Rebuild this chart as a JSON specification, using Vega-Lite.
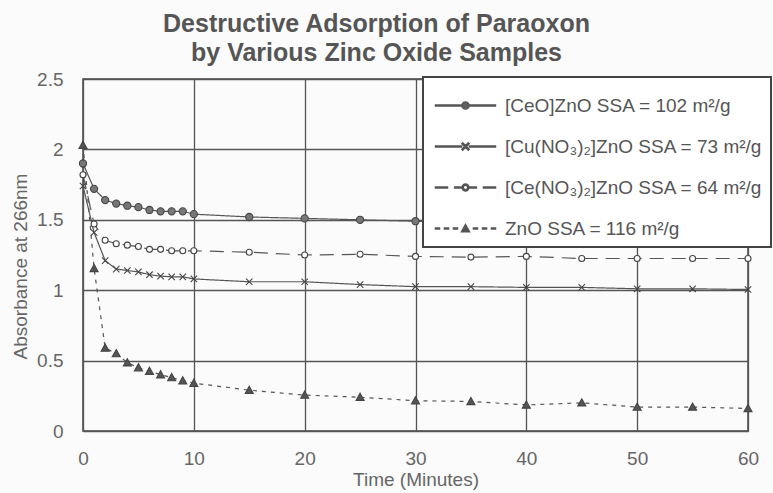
{
  "$schema": "https://vega.github.io/schema/vega-lite/v6.json",
  "width": 665,
  "height": 352,
  "autosize": {"type": "none"},
  "padding": {"left": 83, "top": 79, "right": 25, "bottom": 62},
  "background": "#fbfbfb",
  "title": {
    "text": ["Destructive Adsorption of Paraoxon", "by Various Zinc Oxide Samples"],
    "font": "Liberation Sans",
    "fontSize": 25,
    "fontWeight": "bold",
    "color": "#555",
    "lineHeight": 29,
    "anchor": "middle",
    "dx": -39,
    "offset": 4
  },
  "config": {
    "view": {"stroke": "#444", "strokeWidth": 1.5},
    "legend": {"strokeWidth": 2},
    "axis": {
      "labelFont": "Liberation Sans",
      "labelFontSize": 19,
      "labelColor": "#666",
      "labelFlush": false,
      "titleFont": "Liberation Sans",
      "titleFontSize": 19,
      "titleFontWeight": "normal",
      "titleColor": "#666",
      "grid": true,
      "gridColor": "#555",
      "gridWidth": 1.3,
      "gridOpacity": 1,
      "ticks": false,
      "domain": false
    }
  },
  "data": {
    "values": [
      {"sample": "A", "t": 0, "v": 1.90}, {"sample": "A", "t": 1, "v": 1.72}, {"sample": "A", "t": 2, "v": 1.64},
      {"sample": "A", "t": 3, "v": 1.615}, {"sample": "A", "t": 4, "v": 1.60}, {"sample": "A", "t": 5, "v": 1.59},
      {"sample": "A", "t": 6, "v": 1.57}, {"sample": "A", "t": 7, "v": 1.56}, {"sample": "A", "t": 8, "v": 1.56},
      {"sample": "A", "t": 9, "v": 1.56}, {"sample": "A", "t": 10, "v": 1.54}, {"sample": "A", "t": 15, "v": 1.52},
      {"sample": "A", "t": 20, "v": 1.51}, {"sample": "A", "t": 25, "v": 1.50}, {"sample": "A", "t": 30, "v": 1.49},
      {"sample": "A", "t": 35, "v": 1.48}, {"sample": "A", "t": 40, "v": 1.48}, {"sample": "A", "t": 45, "v": 1.47},
      {"sample": "A", "t": 50, "v": 1.47}, {"sample": "A", "t": 55, "v": 1.47}, {"sample": "A", "t": 60, "v": 1.46},

      {"sample": "B", "t": 0, "v": 1.74}, {"sample": "B", "t": 1, "v": 1.41}, {"sample": "B", "t": 2, "v": 1.21},
      {"sample": "B", "t": 3, "v": 1.15}, {"sample": "B", "t": 4, "v": 1.14}, {"sample": "B", "t": 5, "v": 1.13},
      {"sample": "B", "t": 6, "v": 1.11}, {"sample": "B", "t": 7, "v": 1.10}, {"sample": "B", "t": 8, "v": 1.095},
      {"sample": "B", "t": 9, "v": 1.095}, {"sample": "B", "t": 10, "v": 1.08}, {"sample": "B", "t": 15, "v": 1.06},
      {"sample": "B", "t": 20, "v": 1.06}, {"sample": "B", "t": 25, "v": 1.04}, {"sample": "B", "t": 30, "v": 1.025},
      {"sample": "B", "t": 35, "v": 1.025}, {"sample": "B", "t": 40, "v": 1.02}, {"sample": "B", "t": 45, "v": 1.02},
      {"sample": "B", "t": 50, "v": 1.01}, {"sample": "B", "t": 55, "v": 1.01}, {"sample": "B", "t": 60, "v": 1.005},

      {"sample": "C", "t": 0, "v": 1.82}, {"sample": "C", "t": 1, "v": 1.47}, {"sample": "C", "t": 2, "v": 1.355},
      {"sample": "C", "t": 3, "v": 1.33}, {"sample": "C", "t": 4, "v": 1.32}, {"sample": "C", "t": 5, "v": 1.31},
      {"sample": "C", "t": 6, "v": 1.29}, {"sample": "C", "t": 7, "v": 1.29}, {"sample": "C", "t": 8, "v": 1.28},
      {"sample": "C", "t": 9, "v": 1.28}, {"sample": "C", "t": 10, "v": 1.28}, {"sample": "C", "t": 15, "v": 1.27},
      {"sample": "C", "t": 20, "v": 1.25}, {"sample": "C", "t": 25, "v": 1.255}, {"sample": "C", "t": 30, "v": 1.24},
      {"sample": "C", "t": 35, "v": 1.235}, {"sample": "C", "t": 40, "v": 1.24}, {"sample": "C", "t": 45, "v": 1.225},
      {"sample": "C", "t": 50, "v": 1.225}, {"sample": "C", "t": 55, "v": 1.225}, {"sample": "C", "t": 60, "v": 1.225},

      {"sample": "D", "t": 0, "v": 2.03}, {"sample": "D", "t": 1, "v": 1.155}, {"sample": "D", "t": 2, "v": 0.59},
      {"sample": "D", "t": 3, "v": 0.55}, {"sample": "D", "t": 4, "v": 0.485}, {"sample": "D", "t": 5, "v": 0.45},
      {"sample": "D", "t": 6, "v": 0.425}, {"sample": "D", "t": 7, "v": 0.40}, {"sample": "D", "t": 8, "v": 0.38},
      {"sample": "D", "t": 9, "v": 0.357}, {"sample": "D", "t": 10, "v": 0.34}, {"sample": "D", "t": 15, "v": 0.29},
      {"sample": "D", "t": 20, "v": 0.255}, {"sample": "D", "t": 25, "v": 0.24}, {"sample": "D", "t": 30, "v": 0.215},
      {"sample": "D", "t": 35, "v": 0.21}, {"sample": "D", "t": 40, "v": 0.185}, {"sample": "D", "t": 45, "v": 0.20},
      {"sample": "D", "t": 50, "v": 0.17}, {"sample": "D", "t": 55, "v": 0.17}, {"sample": "D", "t": 60, "v": 0.16}
    ]
  },
  "encoding": {
    "x": {
      "field": "t",
      "type": "quantitative",
      "scale": {"domain": [0, 60], "nice": false},
      "axis": {"values": [0, 10, 20, 30, 40, 50, 60], "title": "Time (Minutes)", "labelPadding": 18, "titlePadding": 2}
    },
    "y": {
      "field": "v",
      "type": "quantitative",
      "scale": {"domain": [0, 2.5], "nice": false},
      "axis": {
        "values": [0, 0.5, 1, 1.5, 2, 2.5],
        "format": "~g",
        "title": "Absorbance at 266nm",
        "labelPadding": 20,
        "titleX": -63,
        "titleY": 187,
        "titleAngle": -90,
        "titleBaseline": "middle",
        "titleAlign": "center"
      }
    }
  },
  "resolve": {"scale": {"shape": "independent", "fill": "independent"}},
  "layer": [
    {
      "mark": {"type": "line", "strokeWidth": 1.2, "color": "#555"},
      "encoding": {
        "strokeDash": {
          "field": "sample",
          "type": "nominal",
          "scale": {"domain": ["D", "C", "B", "A"], "range": [[4, 5], [14, 8], [1, 0], [1, 0]]},
          "legend": null
        }
      }
    },
    {
      "mark": {"type": "point", "filled": true, "size": 64, "stroke": "#444", "strokeWidth": 1.1, "opacity": 1},
      "encoding": {
        "shape": {
          "field": "sample",
          "type": "nominal",
          "scale": {
            "domain": ["D", "C", "B", "A"],
            "range": [
              "M0,-1L1,0.8L-1,0.8Z",
              "M0.75,0A0.75,0.75,0,1,1,-0.75,0A0.75,0.75,0,1,1,0.75,0Z",
              "M-0.8,-0.8L0.8,0.8M-0.8,0.8L0.8,-0.8",
              "M0.9,0A0.9,0.9,0,1,1,-0.9,0A0.9,0.9,0,1,1,0.9,0Z"
            ]
          },
          "legend": null
        },
        "fill": {
          "field": "sample",
          "type": "nominal",
          "scale": {"domain": ["C", "D", "A", "B"], "range": ["#fff", "#555", "#777", "transparent"]},
          "legend": null
        }
      }
    },
    {
      "transform": [{"filter": "datum.t < 0"}],
      "mark": {"type": "point", "filled": false, "size": 64, "stroke": "#555", "strokeWidth": 1.2, "opacity": 1},
      "encoding": {
        "fill": {
          "field": "sample",
          "type": "nominal",
          "scale": {"domain": ["A", "B", "C", "D"], "range": ["#606060", "#555", "#555", "#555"]}
        },
        "shape": {
          "field": "sample",
          "type": "nominal",
          "scale": {
            "domain": ["A", "B", "C", "D"],
            "range": [
              "M-1.25,-0.15L5.35,-0.15L5.35,0.15L-1.25,0.15ZM7.15,-0.15L13.75,-0.15L13.75,0.15L7.15,0.15ZM7.15,0A0.9,0.9,0,1,1,5.35,0A0.9,0.9,0,1,1,7.15,0Z",
              "M-1.25,-0.15L5.25,-0.15L5.25,0.15L-1.25,0.15ZM7.25,-0.15L13.75,-0.15L13.75,0.15L7.25,0.15ZM5.556,-0.906L7.156,0.694L6.944,0.906L5.344,-0.694ZM5.344,0.694L6.944,-0.906L7.156,-0.694L5.556,0.906Z",
              "M-1.25,-0.15L1.75,-0.15L1.75,0.15L-1.25,0.15ZM3.55,-0.15L5.3,-0.15L5.3,0.15L3.55,0.15ZM7.2,-0.15L8.95,-0.15L8.95,0.15L7.2,0.15ZM10.75,-0.15L13.75,-0.15L13.75,0.15L10.75,0.15ZM7.1,0A0.85,0.85,0,1,1,5.4,0A0.85,0.85,0,1,1,7.1,0ZM6.8,0A0.55,0.55,0,1,0,5.7,0A0.55,0.55,0,1,0,6.8,0Z",
              "M-1.25,-0.15L-0.25,-0.15L-0.25,0.15L-1.25,0.15ZM1,-0.15L2,-0.15L2,0.15L1,0.15ZM3.25,-0.15L4.25,-0.15L4.25,0.15L3.25,0.15ZM8.25,-0.15L9.25,-0.15L9.25,0.15L8.25,0.15ZM10.5,-0.15L11.5,-0.15L11.5,0.15L10.5,0.15ZM12.75,-0.15L13.75,-0.15L13.75,0.15L12.75,0.15ZM6.25,-1L7.25,0.8L5.25,0.8Z"
            ]
          },
          "legend": {
            "title": " ",
            "titleFontSize": 8,
            "titlePadding": 3,
            "orient": "none",
            "legendX": 340,
            "legendY": -2,
            "padding": 8,
            "fillColor": "#fff",
            "strokeColor": "#444",
            "symbolSize": 64,
            "labelFont": "Liberation Sans",
            "labelFontSize": 19,
            "labelColor": "#555",
            "labelOffset": 55,
            "labelLimit": 400,
            "rowPadding": 21,
            "labelExpr": "datum.value == 'A' ? '[CeO]ZnO SSA = 102 m²/g' : datum.value == 'B' ? '[Cu(NO₃)₂]ZnO SSA = 73 m²/g' : datum.value == 'C' ? '[Ce(NO₃)₂]ZnO SSA = 64 m²/g' : 'ZnO SSA = 116 m²/g'"
          }
        }
      }
    }
  ]
}
